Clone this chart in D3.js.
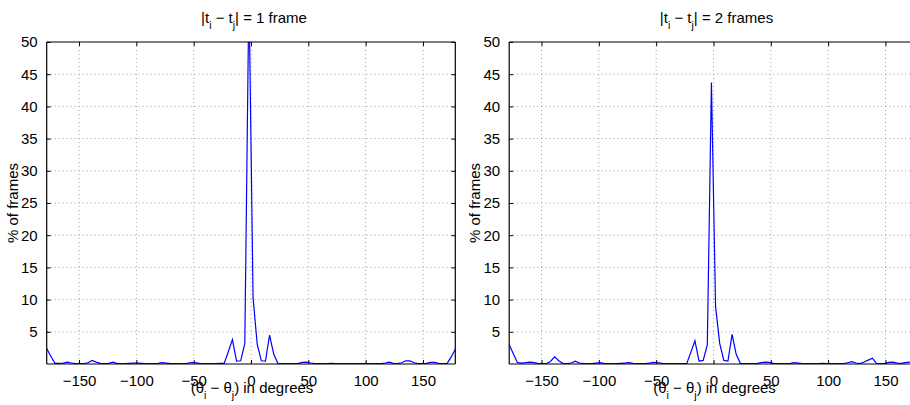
<!DOCTYPE html>
<html>
<head>
<meta charset="utf-8">
<script src="https://cdn.jsdelivr.net/npm/d3@7"></script>
<style>
  html, body { margin: 0; padding: 0; background: #fff; }
  svg { display: block; font-family: "Liberation Sans", Arial, Helvetica, sans-serif; }
</style>
</head>
<body>
<svg id="chart" width="910" height="405"></svg>
<script>
// Bin centres: 100 bins of 3.6 degrees from -180 to 180
const binCount = 100;
const binWidth = 3.6;
const angles = d3.range(binCount).map(k => +(-180 + binWidth / 2 + binWidth * k).toFixed(1));

// % of frames, |ti - tj| = 1 frame
const pct1 = [
  2.4, 1.2, 0.1, 0.1, 0.15, 0.3, 0.15, 0.05, 0.05, 0.05,
  0.2, 0.55, 0.3, 0.1, 0.05, 0.1, 0.3, 0.1, 0.05, 0.05,
  0.1, 0.15, 0.15, 0.1, 0.05, 0.05, 0.05, 0.1, 0.2, 0.15,
  0.05, 0.05, 0.05, 0.05, 0.1, 0.2, 0.2, 0.1, 0.05, 0.05,
  0.05, 0.05, 0.1, 0.1, 1.9, 3.8, 0.45, 0.5, 3.2, 58,
  10.3, 3.1, 0.5, 0.45, 4.5, 1.55, 0.1, 0.05, 0.05, 0.05,
  0.05, 0.1, 0.25, 0.3, 0.15, 0.05, 0.05, 0.05, 0.05, 0.1,
  0.05, 0.05, 0.05, 0.05, 0.05, 0.05, 0.05, 0.05, 0.05, 0.05,
  0.05, 0.05, 0.15, 0.3, 0.1, 0.05, 0.2, 0.5, 0.5, 0.2,
  0.05, 0.05, 0.1, 0.25, 0.25, 0.1, 0.05, 0.05, 1.1, 2.3
];

// % of frames, |ti - tj| = 2 frames
const pct2 = [
  3.0, 1.6, 0.2, 0.15, 0.2, 0.3, 0.2, 0.1, 0.05, 0.05,
  0.4, 1.1, 0.5, 0.1, 0.05, 0.15, 0.45, 0.15, 0.05, 0.05,
  0.05, 0.15, 0.2, 0.1, 0.05, 0.05, 0.05, 0.1, 0.15, 0.2,
  0.1, 0.05, 0.05, 0.05, 0.15, 0.25, 0.2, 0.1, 0.05, 0.05,
  0.05, 0.05, 0.05, 0.05, 1.8, 3.6, 0.45, 0.55, 2.95, 43.7,
  8.9, 3.2, 0.55, 0.45, 4.6, 1.5, 0.1, 0.05, 0.05, 0.05,
  0.05, 0.2, 0.3, 0.25, 0.1, 0.05, 0.05, 0.05, 0.05, 0.2,
  0.15, 0.05, 0.05, 0.05, 0.05, 0.05, 0.1, 0.05, 0.05, 0.05,
  0.05, 0.05, 0.2, 0.35, 0.15, 0.05, 0.3, 0.6, 0.9, 0.1,
  0.05, 0.1, 0.25, 0.3, 0.15, 0.1, 0.2, 0.3, 0.4, 0.8
];

const xTicks = [-150, -100, -50, 0, 50, 100, 150];
const yTicks = [5, 10, 15, 20, 25, 30, 35, 40, 45, 50];
const titleNumbers = ["1 frame", "2 frames"];

const svg = d3.select("#chart");
const fmt = d3.format("");
const FS = 15;
const SUB = 10.5;

function panel(idx, left, values) {
  const width = 408.6, top = 42, bottom = 364;
  const x = d3.scaleLinear().domain([angles[0], angles[binCount - 1]]).range([left, left + width]);
  const y = d3.scaleLinear().domain([0, 50]).range([bottom, top]);
  const g = svg.append("g");
  const clipId = "clip" + idx;
  svg.append("clipPath").attr("id", clipId)
    .append("rect").attr("x", left).attr("y", top).attr("width", width).attr("height", bottom - top);

  // grid
  g.append("g").selectAll("line").data(xTicks).join("line")
    .attr("x1", d => x(d)).attr("x2", d => x(d)).attr("y1", top).attr("y2", bottom)
    .attr("stroke", "#8a8a8a").attr("stroke-width", 0.8).attr("stroke-dasharray", "1,3");
  g.append("g").selectAll("line").data(yTicks.filter(d => d < 50)).join("line")
    .attr("x1", left).attr("x2", left + width).attr("y1", d => y(d)).attr("y2", d => y(d))
    .attr("stroke", "#8a8a8a").attr("stroke-width", 0.8).attr("stroke-dasharray", "1,3");

  // data line
  const line = d3.line().x((d, i) => x(angles[i])).y(d => y(d));
  g.append("path").datum(values)
    .attr("clip-path", `url(#${clipId})`)
    .attr("fill", "none").attr("stroke", "#0000ff").attr("stroke-width", 1.2)
    .attr("d", line);

  // axes (inward ticks) using d3 axis
  const tl = 4;
  const axB = d3.axisBottom(x).tickValues(xTicks).tickSize(-tl).tickPadding(7 + tl).tickFormat(fmt);
  const axT = d3.axisTop(x).tickValues(xTicks).tickSize(-tl).tickFormat("");
  const axL = d3.axisLeft(y).tickValues(yTicks).tickSize(-tl).tickPadding(5 + tl).tickFormat(fmt);
  const axR = d3.axisRight(y).tickValues(yTicks).tickSize(-tl).tickFormat("");
  const style = s => {
    s.selectAll("path.domain").attr("stroke", "#000").attr("stroke-width", 1.2);
    s.selectAll(".tick line").attr("stroke", "#000").attr("stroke-width", 1);
    s.selectAll("text").attr("font-size", FS).attr("fill", "#000")
      .attr("font-family", '"Liberation Sans", Arial, sans-serif');
  };
  g.append("g").attr("transform", `translate(0,${bottom})`).call(axB).call(style)
    .selectAll("path.domain").attr("d", `M${left},0H${left + width}`);
  g.append("g").attr("transform", `translate(0,${top})`).call(axT).call(style)
    .selectAll("path.domain").attr("d", `M${left},0H${left + width}`);
  g.append("g").attr("transform", `translate(${left},0)`).call(axL).call(style)
    .selectAll("path.domain").attr("d", `M0,${top}V${bottom}`);
  g.append("g").attr("transform", `translate(${left + width},0)`).call(axR).call(style)
    .selectAll("path.domain").attr("d", `M0,${top}V${bottom}`);

  const cx = left + width / 2;
  // title
  const t = g.append("text").attr("x", cx + 3).attr("y", 23).attr("text-anchor", "middle")
    .attr("font-size", FS).attr("fill", "#000");
  t.append("tspan").text("|t");
  t.append("tspan").attr("font-size", SUB).attr("dy", 6).text("i");
  t.append("tspan").attr("dy", -6).text(" \u2212 t");
  t.append("tspan").attr("font-size", SUB).attr("dy", 6).text("j");
  t.append("tspan").attr("dy", -6).text("| = " + titleNumbers[idx]);

  // x label
  const xl = g.append("text").attr("x", cx + 1).attr("y", 393).attr("text-anchor", "middle")
    .attr("font-size", FS).attr("fill", "#000");
  xl.append("tspan").text("(\u03b8");
  xl.append("tspan").attr("font-size", SUB).attr("dy", 6).text("i");
  xl.append("tspan").attr("dy", -6).text(" \u2212 \u03b8");
  xl.append("tspan").attr("font-size", SUB).attr("dy", 6).text("j");
  xl.append("tspan").attr("dy", -6).text(") in degrees");

  // y label
  g.append("text").attr("transform", `translate(${left - 29},${(top + bottom) / 2}) rotate(-90)`)
    .attr("text-anchor", "middle").attr("font-size", FS).attr("fill", "#000")
    .text("% of frames");
}

panel(0, 46.7, pct1);
panel(1, 509.2, pct2);
</script>
</body>
</html>
